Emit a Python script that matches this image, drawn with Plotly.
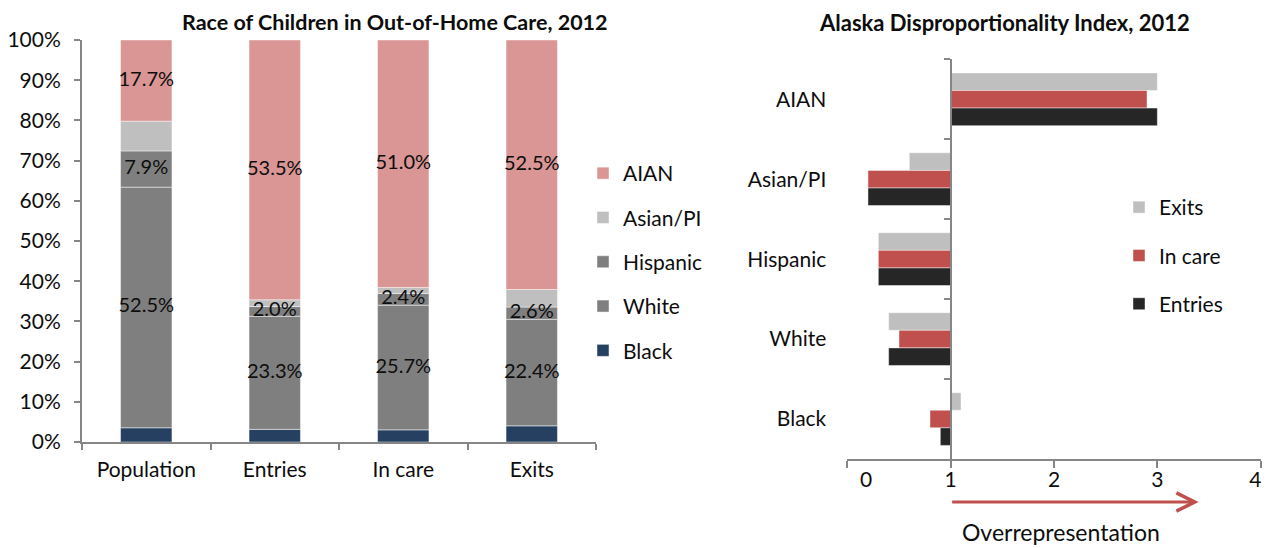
import plotly.graph_objects as go

# ---------------- data ----------------
categories = ["Population", "Entries", "In care", "Exits"]
black = [3.1, 2.6, 2.5, 3.4]
white = [52.5, 23.3, 25.7, 22.4]
hispanic = [7.9, 2.0, 2.4, 2.6]
asian_pi = [6.5, 1.4, 1.25, 3.7]
aian = [17.7, 53.5, 51.0, 52.5]
labelled = {"White": True, "Hispanic": True, "AIAN": True, "Black": False, "Asian/PI": False}
y_ticks = [0, 10, 20, 30, 40, 50, 60, 70, 80, 90, 100]

races = ["AIAN", "Asian/PI", "Hispanic", "White", "Black"]
exits_idx = [3.0, 0.6, 0.3, 0.4, 1.1]
in_care_idx = [2.9, 0.2, 0.3, 0.5, 0.8]
entries_idx = [3.0, 0.2, 0.3, 0.4, 0.9]
x_ticks = [0, 1, 2, 3, 4]
x_tick_text = ["\u00a0" * 7 + "0", "1", "2", "3", "4" + "\u00a0" * 2]

FONT = "Lato, 'Open Sans', sans-serif"
TXT = "#0d0d0d"
AX = "#868686"
W, H = 1281, 548

fig = go.Figure()

# ---------------- left chart: normalised stacked bars ----------------
series = [("Black", black, "#254061", 5), ("White", white, "#7f7f7f", 4),
          ("Hispanic", hispanic, "#7f7f7f", 3), ("Asian/PI", asian_pi, "#bfbfbf", 2),
          ("AIAN", aian, "#d99694", 1)]
totals = [sum(s[1][i] for s in series) for i in range(len(categories))]
base = [0.0] * len(categories)
lab_x, lab_y, lab_t = [], [], []
for name, vals, col, rank in series:
    pct = [v / t * 100 for v, t in zip(vals, totals)]
    fig.add_trace(go.Bar(
        x=categories, y=pct, base=base[:], name=name, marker_color=col,
        marker_line=dict(color="rgba(255,255,255,0.45)", width=1),
        width=0.4, offset=-0.2, offsetgroup="stack", legendrank=rank,
        legend="legend", legendgroup=name, xaxis="x", yaxis="y",
        hoverinfo="skip"))
    if labelled[name]:
        for c, b, p, v in zip(categories, base, pct, vals):
            lab_x.append(c)
            lab_y.append(b + p / 2)
            lab_t.append(f"{v:.1f}%")
    base = [b + p for b, p in zip(base, pct)]

fig.add_trace(go.Scatter(
    x=lab_x, y=lab_y, text=lab_t, mode="text", textposition="middle center",
    textfont=dict(family=FONT, size=20, color=TXT), showlegend=False,
    hoverinfo="skip", xaxis="x", yaxis="y", cliponaxis=False))

# ---------------- right chart: disproportionality index ----------------
for name, vals, col in [("Exits", exits_idx, "#bfbfbf"),
                        ("In care", in_care_idx, "#c0504d"),
                        ("Entries", entries_idx, "#262626")]:
    fig.add_trace(go.Bar(
        y=races, x=[v - 1 for v in vals], base=1, orientation="h",
        name=name, marker_color=col,
        marker_line=dict(color="rgba(255,255,255,0.45)", width=1),
        offsetgroup=name, legend="legend2", legendgroup=name,
        xaxis="x2", yaxis="y2", hoverinfo="skip"))

# invisible helper trace for the axis line drawn at index = 1
fig.add_trace(go.Scatter(x=[1] * len(races), y=races, mode="none",
                         showlegend=False, hoverinfo="skip",
                         xaxis="x2", yaxis="y3"))

# ---------------- layout ----------------
lx0, lx1 = 82 / W, 596 / W
ly0, ly1 = 1 - 442 / H, 1 - 40 / H
rx0, rx1 = 847.3 / W, 1260.7 / W
ry0, ry1 = 1 - 459 / H, 1 - 59.3 / H

fig.update_layout(
    template="none",
    width=W, height=H,
    margin=dict(l=0, r=0, t=0, b=0, autoexpand=False),
    paper_bgcolor="white", plot_bgcolor="white",
    font=dict(family=FONT, color=TXT, size=20),
    barmode="group", bargap=0.34, bargroupgap=0,
    showlegend=True,
    xaxis=dict(domain=[lx0, lx1], anchor="y", type="category",
               categoryorder="array", categoryarray=categories,
               showline=True, linecolor=AX, linewidth=2,
               ticks="outside", tickson="boundaries", ticklen=6, tickcolor=AX,
               tickwidth=2, showgrid=False, zeroline=False,
               tickfont=dict(size=21), ticklabelstandoff=8),
    yaxis=dict(domain=[ly0, ly1], anchor="x", range=[0, 100],
               tickvals=y_ticks, ticktext=[f"{t}%" for t in y_ticks],
               showline=True, linecolor=AX, linewidth=2,
               ticks="outside", ticklen=6, tickcolor=AX, tickwidth=2,
               showgrid=False, zeroline=False,
               tickfont=dict(size=21), ticklabelstandoff=9),
    xaxis2=dict(domain=[rx0, rx1], anchor="y2", range=[0, 4],
                tickvals=x_ticks, ticktext=x_tick_text,
                showline=True, linecolor=AX, linewidth=2,
                ticks="outside", ticklen=7, tickcolor=AX, tickwidth=2,
                showgrid=False, zeroline=False, tickfont=dict(size=21),
                ticklabelstandoff=-6),
    yaxis2=dict(domain=[ry0, ry1], anchor="x2", type="category",
                categoryorder="array", categoryarray=races,
                range=[len(races) - 0.5, -0.5], showline=False, ticks="",
                showgrid=False, zeroline=False, tickfont=dict(size=21),
                ticklabelstandoff=20),
    yaxis3=dict(overlaying="y2", anchor="free",
                position=rx0 + (rx1 - rx0) * 0.25, side="left",
                type="category", categoryorder="array", categoryarray=races,
                range=[len(races) - 0.5, -0.5],
                showline=True, linecolor=AX, linewidth=2,
                ticks="outside", tickson="boundaries", ticklen=6,
                tickcolor=AX, tickwidth=2, showticklabels=False,
                showgrid=False, zeroline=False),
    legend=dict(x=583 / W, y=1 - 153 / H, xanchor="left", yanchor="top",
                traceorder="grouped", tracegroupgap=14,
                font=dict(size=21), bgcolor="rgba(0,0,0,0)", borderwidth=0),
    legend2=dict(x=1119 / W, y=1 - 187 / H, xanchor="left", yanchor="top",
                 traceorder="grouped", tracegroupgap=18,
                 font=dict(size=21), bgcolor="rgba(0,0,0,0)", borderwidth=0),
    annotations=[
        dict(text="<b>Race of Children in Out-of-Home Care, 2012</b>",
             x=395 / W, y=1 - 22 / H, xref="paper", yref="paper",
             xanchor="center", yanchor="middle",
             showarrow=False, font=dict(size=21.5, color=TXT)),
        dict(text="<b>Alaska Disproportionality Index, 2012</b>",
             x=1004.5 / W, y=1 - 22 / H, xref="paper", yref="paper",
             xanchor="center", yanchor="middle",
             showarrow=False, font=dict(size=22, color=TXT)),
        dict(text="Overrepresentation", x=1060.7 / W, y=1 - 532 / H,
             xref="paper", yref="paper", xanchor="center", yanchor="middle",
             showarrow=False, font=dict(size=23, color=TXT)),
        dict(text="", x=3.4, y=1 - 502 / H, xref="x2", yref="paper",
             ax=1, ay=0, axref="x2", ayref="pixel", showarrow=True,
             arrowhead=5, arrowsize=1.2, arrowwidth=3, arrowcolor="#c0504d"),
    ],
)

fig.write_html("out.html")
